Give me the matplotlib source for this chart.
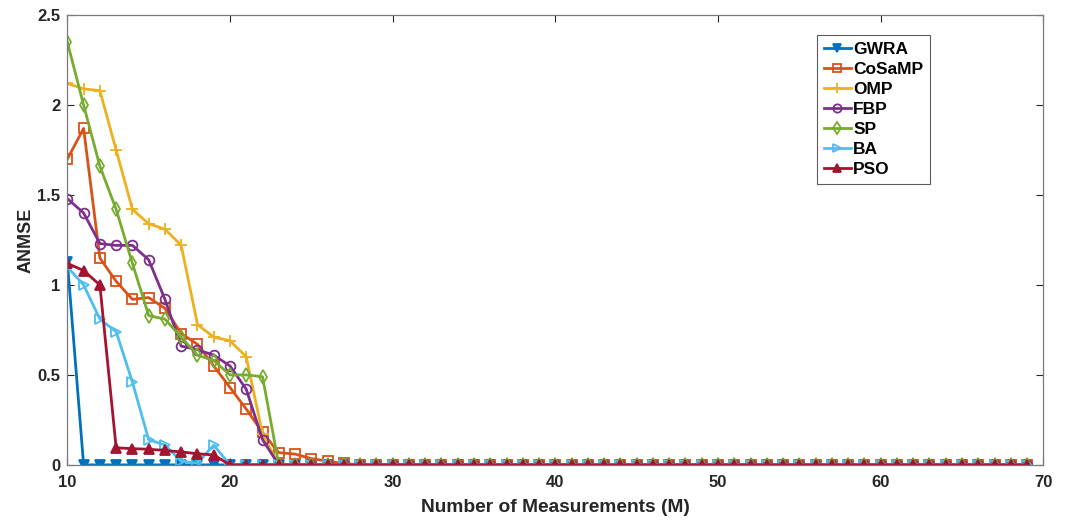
import numpy as np
import matplotlib
matplotlib.use("Agg")
import matplotlib.pyplot as plt

plt.rcParams["font.family"] = ["Liberation Sans", "DejaVu Sans"]
plt.rcParams["font.weight"] = "bold"

# measurement counts 10..69; every method reaches zero error by M=28
M = list(range(10, 70))

gwra_head = [1.13]
cosamp_head = [1.70, 1.87, 1.15, 1.02, 0.92, 0.93, 0.87, 0.73, 0.67, 0.55,
               0.43, 0.31, 0.18, 0.068, 0.06, 0.035, 0.02, 0.008]
omp_head = [2.12, 2.09, 2.08, 1.75, 1.42, 1.34, 1.31, 1.22, 0.78, 0.71,
            0.69, 0.60, 0.17]
fbp_head = [1.48, 1.40, 1.23, 1.22, 1.22, 1.14, 0.92, 0.66, 0.64, 0.61,
            0.55, 0.42, 0.14]
sp_head = [2.35, 2.00, 1.66, 1.42, 1.12, 0.83, 0.81, 0.71, 0.61, 0.58,
           0.50, 0.50, 0.49]
ba_head = [1.10, 1.00, 0.81, 0.74, 0.46, 0.14, 0.11, 0.02, 0.01, 0.11]
pso_head = [1.12, 1.08, 1.00, 0.095, 0.09, 0.087, 0.08, 0.072, 0.062, 0.055]


def pad(head):
    return head + [0.0] * (len(M) - len(head))


series = [
    ("GWRA", pad(gwra_head), "#0072BD", "v", True),
    ("CoSaMP", pad(cosamp_head), "#D95319", "s", False),
    ("OMP", pad(omp_head), "#EDB120", "+", False),
    ("FBP", pad(fbp_head), "#7E2F8E", "o", False),
    ("SP", pad(sp_head), "#77AC30", "d", False),
    ("BA", pad(ba_head), "#4DBEEE", ">", False),
    ("PSO", pad(pso_head), "#A2142F", "^", True),
]

fig = plt.figure(figsize=(10.69, 5.20), dpi=100)
ax = fig.add_axes([0.063, 0.106, 0.913, 0.865])

for name, vals, col, mk, filled in series:
    ax.plot(M, vals, color=col, lw=2.0, marker=mk, ms=7 if mk != "+" else 9,
            mew=1.3, mfc=col if filled else "none", mec=col, label=name)

ax.set_xlim(10, 70)
ax.set_ylim(0, 2.5)
ax.set_xticks(np.arange(10, 71, 10))
ax.set_yticks(np.arange(0, 2.51, 0.5))
ax.set_yticklabels(["0", "0.5", "1", "1.5", "2", "2.5"])
ax.tick_params(direction="in", top=True, right=True, length=5, width=0.8,
               labelsize=12, colors="#262626")
ax.tick_params(axis="x", pad=7)
ax.tick_params(axis="y", pad=5)
for lab in ax.get_xticklabels() + ax.get_yticklabels():
    lab.set_fontweight("bold")
for sp in ax.spines.values():
    sp.set_color("#7a7a7a")
    sp.set_linewidth(0.9)

ax.set_xlabel("Number of Measurements (M)", fontsize=13.8, fontweight="bold",
              color="#262626", labelpad=7)
ax.set_ylabel("ANMSE", fontsize=13, fontweight="bold", color="#262626",
              labelpad=2)

leg = ax.legend(loc="upper left", bbox_to_anchor=(0.768, 0.956), fontsize=12.5,
                frameon=True, fancybox=False, handlelength=1.55,
                handletextpad=0.15, borderpad=0.4, labelspacing=0.28,
                borderaxespad=0, markerscale=0.85)
leg.get_frame().set_edgecolor("#333333")
leg.get_frame().set_linewidth(0.8)
for t in leg.get_texts():
    t.set_fontweight("bold")

fig.savefig("out.png", dpi=100)
